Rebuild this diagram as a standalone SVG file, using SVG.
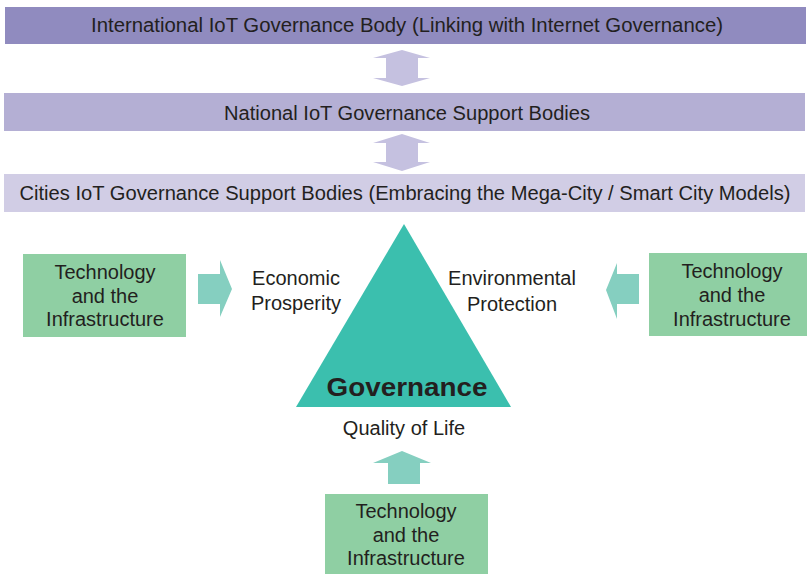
<svg xmlns="http://www.w3.org/2000/svg" width="807" height="574" viewBox="0 0 807 574">
<style>
text{font-family:"Liberation Sans",Arial,sans-serif;fill:#231f20;text-anchor:middle}
.bar{font-size:20px}
.lbl{font-size:20px}
.gov{font-size:25px;font-weight:bold}
.green{fill:#8fcfa3}
.dbl{fill:#c5c1e0}
.arr{fill:#85cfc0}
</style>
<rect width="807" height="574" fill="#ffffff"/>
<g id="international">
<rect x="5" y="7" width="801" height="37" fill="#908bbf"/>
<text class="bar" x="407" y="32" textLength="632" lengthAdjust="spacingAndGlyphs">International IoT Governance Body (Linking with Internet Governance)</text>
</g>
<g id="national">
<rect x="4" y="93" width="801" height="38" fill="#b4afd4"/>
<text class="bar" x="407" y="120" textLength="366" lengthAdjust="spacingAndGlyphs">National IoT Governance Support Bodies</text>
</g>
<g id="cities">
<rect x="4" y="174" width="801" height="38" fill="#d1cde5"/>
<text class="bar" x="405" y="200" textLength="771" lengthAdjust="spacingAndGlyphs">Cities IoT Governance Support Bodies (Embracing the Mega-City / Smart City Models)</text>
</g>
<g id="governance">
<polygon points="404,224 296,407 511,407" fill="#3bbfae"/>
<text class="gov" x="407" y="396" textLength="161" lengthAdjust="spacingAndGlyphs">Governance</text>
</g>
<g id="economic">
<text class="lbl" x="296" y="285">Economic</text>
<text class="lbl" x="296" y="310">Prosperity</text>
</g>
<g id="environmental">
<text class="lbl" x="512" y="285">Environmental</text>
<text class="lbl" x="512" y="311">Protection</text>
</g>
<g id="quality">
<text class="lbl" x="404" y="435">Quality of Life</text>
</g>
<g id="tech-left">
<rect class="green" x="23" y="254" width="163" height="83"/>
<text class="lbl" x="105" y="279">Technology</text>
<text class="lbl" x="105" y="303">and the</text>
<text class="lbl" x="105" y="326">Infrastructure</text>
</g>
<g id="tech-right">
<rect class="green" x="649" y="253" width="158" height="83"/>
<text class="lbl" x="732" y="278">Technology</text>
<text class="lbl" x="732" y="302">and the</text>
<text class="lbl" x="732" y="326">Infrastructure</text>
</g>
<g id="tech-bottom">
<rect class="green" x="325" y="494" width="163" height="80"/>
<text class="lbl" x="406" y="518">Technology</text>
<text class="lbl" x="406" y="542">and the</text>
<text class="lbl" x="406" y="565">Infrastructure</text>
</g>
<g id="connectors">
<polygon class="dbl" points="402,50 430,58 418,58 418,78 430,78 402,86 373,78 386,78 386,58 373,58"/>
<polygon class="dbl" points="402,134 430,143 418,143 418,162 430,162 402,171 373,162 386,162 386,143 373,143"/>
<polygon class="arr" points="198,274 220,274 220,260 232,289 220,317 220,304 198,304"/>
<polygon class="arr" points="639,274 617,274 617,263 606,290 617,319 617,304 639,304"/>
<polygon class="arr" points="402,451 431,463 420,463 420,484 388,484 388,463 373,463"/>
</g>
</svg>
